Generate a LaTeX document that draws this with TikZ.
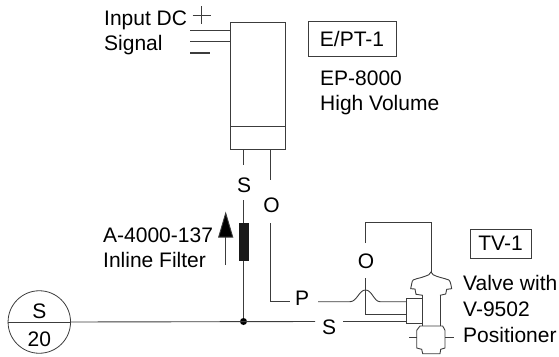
\documentclass[tikz,border=0pt]{standalone}
\usepackage{fontspec}
\setmainfont{Liberation Sans}
\usetikzlibrary{arrows.meta}
\definecolor{pipegray}{RGB}{60,60,60}
\tikzset{
    pipe/.style={draw=pipegray, line width=0.9pt},
    lbl/.style={inner sep=0pt, font=\fontsize{21}{25}\selectfont},
    txt/.style={lbl, align=left, anchor=west},
    tagbox/.style={lbl, draw=pipegray, line width=0.8pt}
}

\begin{document}
\begin{tikzpicture}[x=1pt, y=-1pt]
    \useasboundingbox (0,0) rectangle (559,356);

    % converter body
    \draw[pipe] (230.5,22.5) rectangle (285,149);
    \draw[pipe] (230.5,126.5) -- (285,126.5);
    \coordinate (sigA) at (190,30);
    \coordinate (sigB) at (190,41);
    \draw[pipe] (sigA) -- (230.5,30);
    \draw[pipe] (sigB) -- (230.5,41);
    \draw[pipe] (192.5,15) -- (211,15);
    \draw[pipe] (201.5,6) -- (201.5,24);
    \draw[pipe, line width=1.8pt] (190,53) -- (210,53);

    \node[txt] (sig) at (104,33) {Input DC\\Signal};
    \node[tagbox, minimum width=88pt, minimum height=35pt] (ept) at (352,39) {E/PT-1};
    \node[txt] (ep) at (320,93) {EP-8000\\High Volume};

    % supply and filter
    \node[draw=pipegray, line width=0.8pt, circle, minimum size=62.5pt, inner sep=0pt] (ind) at (39.3,322) {};
    \draw[pipe] (ind.west) -- (ind.east);
    \node[lbl] (indS) at (39.3,311) {S};
    \node[lbl] (indN) at (39.3,339) {20};
    \node[lbl] (sS) at (244,185) {S};
    \node[lbl] (sO) at (271.5,205) {O};
    \node[txt] (flt) at (103,248) {A-4000-137\\Inline Filter};

    \coordinate (tee) at (243.5,321.5);
    \draw[pipe] (243.5,149) -- (243.5,165);
    \draw[pipe] (243.5,200) -- (tee);
    \fill[black!90] (239,223) rectangle (249.3,261);
    \fill[black] (tee) circle (3.5);
    \draw[pipe, -{Triangle[length=26pt, width=15pt, fill=black]}] (225.7,265) -- (225.7,211.5);

    \node[lbl] (lP) at (302,298) {P};
    \node[lbl] (lS) at (329,327) {S};
    \node[lbl] (lO) at (366,261) {O};
    \draw[pipe] (ind.east) -- (315,321.5);
    \draw[pipe] (343,321.5) -- (406.7,321.5);
    \draw[pipe] (270.7,149) -- (270.7,180);
    \draw[pipe] (270.7,223) -- (270.7,301.7) -- (290,301.7);
    \draw[pipe] (318,301.7) -- (350,301.7) .. controls (357,301.7) and (359,290) .. (365.5,290) .. controls (372,290) and (374,301.7) .. (380,301.7) -- (406.7,301.7);
    \draw[pipe] (365.7,278) -- (365.7,314.5) -- (406.7,314.5);
    \draw[pipe] (365.7,243) -- (365.7,222) -- (431,222) -- (431,272);

    % valve
    \draw[pipe] (406.7,298.7) rectangle (422.7,323.3);
    \draw[pipe] (422.7,295.3) -- (422.7,326);
    \draw[pipe] (440,295.3) -- (440,326);
    \draw[pipe] (422.7,295.3) -- (416,294.3) -- (415,289) -- (410.7,288.7) -- (411.7,283.7) .. controls (412,280) and (414,279) .. (416.7,278.7) .. controls (420,278) and (423,277) .. (425,276.3) .. controls (428,276) and (430,274) .. (431,272) .. controls (432,274) and (434,276) .. (436.7,276.3) .. controls (439,277) and (442,278) .. (445,278.7) .. controls (448,279) and (450,280) .. (450.7,283.7) -- (451.7,288.7) -- (446.7,289.3) -- (445.7,294) -- (440,295.3);
    \draw[pipe] (420,326) -- (442.7,326) -- (445,330.3) -- (445,348) -- (440.7,349.3) -- (440,353.7) -- (422.7,353.7) -- (421.7,349.3) -- (416.7,348) -- (416.7,330.3) -- cycle;
    \draw[pipe] (409.3,337) -- (416.7,337);
    \draw[pipe] (445,337) -- (454,337);

    \node[tagbox, minimum width=61pt, minimum height=29pt] (tv) at (500.5,243.5) {TV-1};
    \node[txt] (vlv) at (463,283) {Valve with};
    \node[txt] (pos) at (463,309) {V-9502};
    \node[txt] (psn) at (463,335) {Positioner};
\end{tikzpicture}
\end{document}
